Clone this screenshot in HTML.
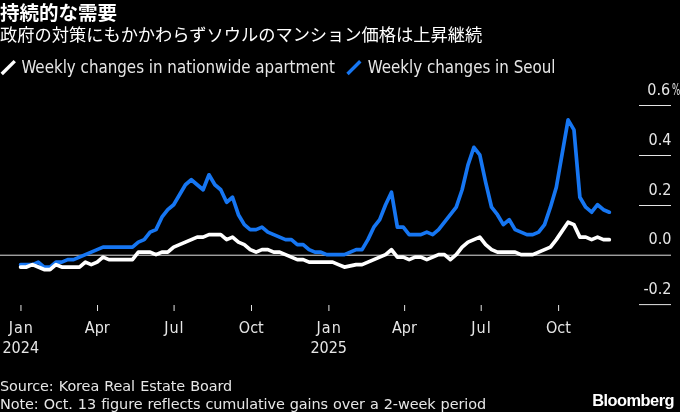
<!DOCTYPE html>
<html lang="ja"><head><meta charset="utf-8"><title>chart</title>
<style>
html,body{margin:0;padding:0;background:#000;}
body{width:680px;height:412px;position:relative;overflow:hidden;font-family:"DejaVu Sans Condensed", "Liberation Sans", "Noto Sans CJK JP", sans-serif;color:#e6e6e6;}
svg text{font-family:"DejaVu Sans Condensed", "Liberation Sans", "Noto Sans CJK JP", sans-serif;}
.t{position:absolute;white-space:nowrap;line-height:1;}
#title{left:0;top:4.1px;font-size:19.5px;font-weight:bold;color:#fff;font-family:"Liberation Sans","Noto Sans CJK JP",sans-serif;}
#sub{left:0;top:26.8px;font-size:17.24px;color:#fff;font-family:"Liberation Sans","Noto Sans CJK JP",sans-serif;}
.lg{top:58.9px;font-size:16.8px;}
#pct{right:9.8px;top:81.6px;font-size:16px;}
#pct span{position:absolute;left:100%;top:0;margin-left:2.2px;transform:scaleX(0.6);transform-origin:0 0;}
#src{left:0;top:378.6px;font-size:14.4px;letter-spacing:-0.1px;word-spacing:0.75px;font-family:"DejaVu Sans","Liberation Sans",sans-serif;}
#note{left:0;top:397px;font-size:14.44px;letter-spacing:-0.1px;word-spacing:0.6px;font-family:"DejaVu Sans","Liberation Sans",sans-serif;}
#bb{left:592.2px;top:392px;font-size:16.4px;font-weight:bold;color:#fff;font-family:"Liberation Sans",sans-serif;letter-spacing:-0.52px;}
</style></head><body>
<svg width="680" height="412" viewBox="0 0 680 412" style="position:absolute;left:0;top:0">
<rect x="639" y="105" width="32" height="1" fill="#e4e4e4"/>
<rect x="639" y="155" width="32" height="1" fill="#e4e4e4"/>
<text x="671.5" y="144.6" text-anchor="end" font-size="16" fill="#e6e6e6">0.4</text>
<rect x="639" y="205" width="32" height="1" fill="#e4e4e4"/>
<text x="671.5" y="194.6" text-anchor="end" font-size="16" fill="#e6e6e6">0.2</text>
<text x="671.5" y="244.1" text-anchor="end" font-size="16" fill="#e6e6e6">0.0</text>
<rect x="639" y="304.1" width="32" height="1" fill="#e4e4e4"/>
<text x="671.5" y="293.7" text-anchor="end" font-size="16" fill="#e6e6e6">-0.2</text>
<rect x="0" y="254.7" width="671" height="1" fill="#e0e0e0"/>
<rect x="20.45" y="305" width="1" height="6" fill="#e4e4e4"/>
<text x="21.25" y="332.6" text-anchor="middle" font-size="16" fill="#e6e6e6" letter-spacing="1">Jan</text>
<text x="20.75" y="353.4" text-anchor="middle" font-size="16" fill="#e6e6e6">2024</text>
<rect x="97.02" y="305" width="1" height="6" fill="#e4e4e4"/>
<text x="97.32" y="332.6" text-anchor="middle" font-size="16" fill="#e6e6e6">Apr</text>
<rect x="173.58" y="305" width="1" height="6" fill="#e4e4e4"/>
<text x="174.38" y="332.6" text-anchor="middle" font-size="16" fill="#e6e6e6" letter-spacing="1">Jul</text>
<rect x="250.99" y="305" width="1" height="6" fill="#e4e4e4"/>
<text x="251.29" y="332.6" text-anchor="middle" font-size="16" fill="#e6e6e6">Oct</text>
<rect x="328.40" y="305" width="1" height="6" fill="#e4e4e4"/>
<text x="329.20" y="332.6" text-anchor="middle" font-size="16" fill="#e6e6e6" letter-spacing="1">Jan</text>
<text x="328.70" y="353.4" text-anchor="middle" font-size="16" fill="#e6e6e6">2025</text>
<rect x="404.13" y="305" width="1" height="6" fill="#e4e4e4"/>
<text x="404.43" y="332.6" text-anchor="middle" font-size="16" fill="#e6e6e6">Apr</text>
<rect x="480.70" y="305" width="1" height="6" fill="#e4e4e4"/>
<text x="481.50" y="332.6" text-anchor="middle" font-size="16" fill="#e6e6e6" letter-spacing="1">Jul</text>
<rect x="558.10" y="305" width="1" height="6" fill="#e4e4e4"/>
<text x="558.40" y="332.6" text-anchor="middle" font-size="16" fill="#e6e6e6">Oct</text>
<polyline fill="none" stroke="#1676f2" stroke-width="3.7" stroke-linejoin="round" stroke-linecap="round" points="20.60,264.58 26.49,264.58 32.37,264.58 38.26,262.08 44.15,267.07 50.03,267.07 55.92,262.08 61.81,262.08 67.70,259.59 73.58,259.59 79.47,257.09 85.36,254.60 91.24,252.11 97.13,249.61 103.02,247.12 108.91,247.12 114.79,247.12 120.68,247.12 126.57,247.12 132.45,247.12 138.34,242.13 144.23,239.64 150.11,232.15 156.00,229.66 161.89,217.19 167.77,209.71 173.66,204.72 179.55,194.74 185.44,184.77 191.32,179.78 197.21,184.77 203.10,189.76 208.98,174.79 214.87,184.77 220.76,189.76 226.64,202.23 232.53,197.24 238.42,214.70 244.31,224.67 250.19,229.66 256.08,229.66 261.97,227.17 267.85,232.15 273.74,234.65 279.63,237.14 285.51,239.64 291.40,239.64 297.29,244.62 303.18,244.62 309.06,249.61 314.95,252.11 320.84,252.11 326.72,254.60 332.61,254.60 338.50,254.60 344.38,254.60 350.27,252.11 356.16,249.61 362.05,249.61 367.93,239.64 373.82,227.17 379.71,219.68 385.59,204.72 391.48,192.25 397.37,227.17 403.25,227.17 409.14,234.65 415.03,234.65 420.92,234.65 426.80,232.15 432.69,234.65 438.58,229.66 444.46,222.18 450.35,214.70 456.24,207.21 462.12,189.76 468.01,164.82 473.90,147.36 479.79,154.84 485.67,182.27 491.56,207.21 497.45,214.70 503.33,224.67 509.22,219.68 515.11,229.66 521.00,232.15 526.88,234.65 532.77,234.65 538.66,232.15 544.54,224.67 550.43,207.21 556.32,187.26 568.09,119.92 573.98,129.90 579.87,197.24 585.75,207.21 591.64,212.20 597.53,204.72 603.41,209.71 609.30,212.20"/>
<polyline fill="none" stroke="#ffffff" stroke-width="3.7" stroke-linejoin="round" stroke-linecap="round" points="20.60,267.07 26.49,267.07 32.37,264.58 38.26,267.07 44.15,269.56 50.03,269.56 55.92,264.58 61.81,267.07 67.70,267.07 73.58,267.07 79.47,267.07 85.36,262.08 91.24,264.58 97.13,262.08 103.02,257.09 108.91,259.59 114.79,259.59 120.68,259.59 126.57,259.59 132.45,259.59 138.34,252.11 144.23,252.11 150.11,252.11 156.00,254.60 161.89,252.11 167.77,252.11 173.66,247.12 179.55,244.62 185.44,242.13 191.32,239.64 197.21,237.14 203.10,237.14 208.98,234.65 214.87,234.65 220.76,234.65 226.64,239.64 232.53,237.14 238.42,242.13 244.31,244.62 250.19,249.61 256.08,252.11 261.97,249.61 267.85,249.61 273.74,252.11 279.63,252.11 285.51,254.60 291.40,257.09 297.29,259.59 303.18,259.59 309.06,262.08 314.95,262.08 320.84,262.08 326.72,262.08 332.61,262.08 338.50,264.58 344.38,267.07 350.27,265.82 356.16,264.58 362.05,264.58 367.93,262.08 373.82,259.59 379.71,257.09 385.59,254.60 391.48,249.61 397.37,257.09 403.25,257.09 409.14,259.59 415.03,257.09 420.92,257.09 426.80,259.59 432.69,257.09 438.58,254.60 444.46,254.60 450.35,259.59 456.24,254.60 462.12,247.12 468.01,242.13 473.90,239.64 479.79,237.14 485.67,244.62 491.56,249.61 497.45,252.11 503.33,252.11 509.22,252.11 515.11,252.11 521.00,254.60 526.88,254.60 532.77,254.60 538.66,252.11 544.54,249.61 550.43,247.12 556.32,239.64 568.09,222.18 573.98,224.67 579.87,237.14 585.75,237.14 591.64,239.64 597.53,237.14 603.41,239.64 609.30,239.64"/>
<line x1="1.75" y1="74.05" x2="14.76" y2="61.13" stroke="#ffffff" stroke-width="3.4"/>
<line x1="347.5" y1="74.05" x2="360.3" y2="61.2" stroke="#1676f2" stroke-width="3.4"/>
</svg>
<div class="t" id="title">持続的な需要</div>
<div class="t" id="sub">政府の対策にもかかわらずソウルのマンション価格は上昇継続</div>
<div class="t lg" style="left:21.4px">Weekly changes in nationwide apartment</div>
<div class="t lg" style="left:367.7px">Weekly changes in Seoul</div>
<div class="t" id="pct">0.6<span>%</span></div>
<div class="t" id="src">Source: Korea Real Estate Board</div>
<div class="t" id="note">Note: Oct. 13 figure reflects cumulative gains over a 2-week period</div>
<div class="t" id="bb">Bloomberg</div>
</body></html>
